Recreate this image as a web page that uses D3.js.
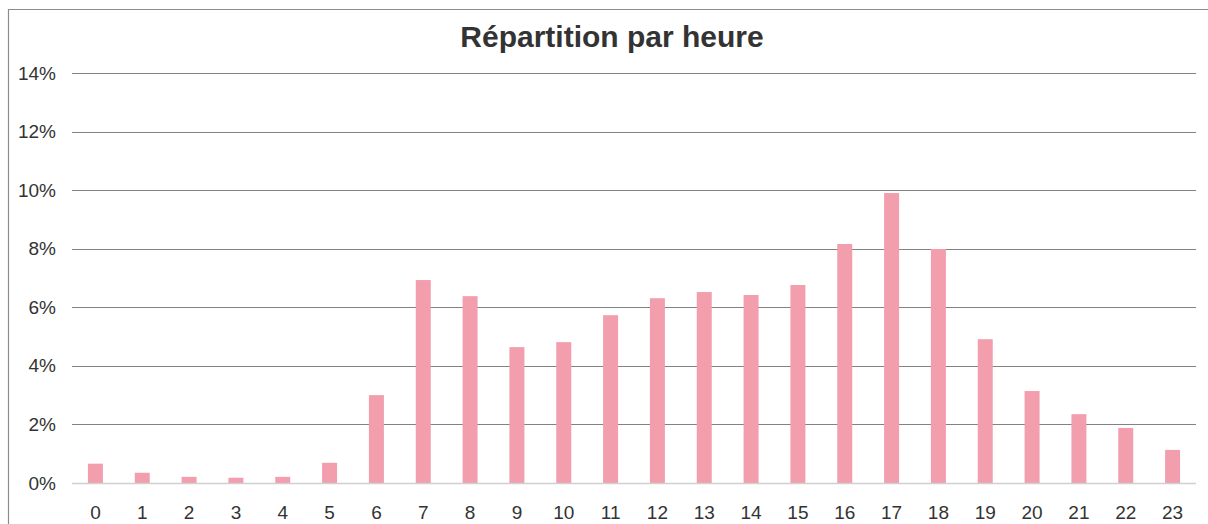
<!DOCTYPE html>
<html>
<head>
<meta charset="utf-8">
<script src="https://cdn.jsdelivr.net/npm/d3@7"></script>
<style>
  html, body { margin: 0; padding: 0; background: #fff; overflow: hidden; }
  svg { display: block; font-family: "Liberation Sans", Arial, Helvetica, sans-serif; }
</style>
</head>
<body>
<svg id="chart" width="1208" height="524"></svg>
<script>
// données (% par heure)
const hours = d3.range(0, 24).map(String);
const shares = [0.66, 0.35, 0.21, 0.18, 0.21, 0.69, 3.0, 6.93, 6.38, 4.64, 4.81, 5.73,
                6.31, 6.52, 6.42, 6.76, 8.16, 9.90, 7.99, 4.91, 3.14, 2.35, 1.88, 1.13];
const yTicks = [0, 2, 4, 6, 8, 10, 12, 14];
const title = 'Répartition par heure';

const svg = d3.select('#chart');
const margin = { left: 72, right: 12, top: 73, bottom: 41 };
const W = 1208, H = 524;

// cadre (haut et gauche seulement visibles)
svg.append('line')
  .attr('x1', 8).attr('x2', W).attr('y1', 9.5).attr('y2', 9.5)
  .attr('stroke', '#8c8c8c').attr('stroke-width', 1.2);
svg.append('line')
  .attr('x1', 8.5).attr('x2', 8.5).attr('y1', 9).attr('y2', H)
  .attr('stroke', '#8c8c8c').attr('stroke-width', 1.2);

const x = d3.scaleBand()
  .domain(hours)
  .range([margin.left, W - margin.right])
  .paddingInner(0.68).paddingOuter(0.34);

const y = d3.scaleLinear()
  .domain([0, 14])
  .range([H - margin.bottom, margin.top]);

// grille
svg.append('g')
  .selectAll('line')
  .data(yTicks.filter(d => d > 0))
  .join('line')
  .attr('x1', margin.left).attr('x2', W - margin.right)
  .attr('y1', d => Math.round(y(d)) + 0.5).attr('y2', d => Math.round(y(d)) + 0.5)
  .attr('stroke', '#828282').attr('stroke-width', 1.1);

// barres
svg.append('g')
  .selectAll('rect')
  .data(shares)
  .join('rect')
  .attr('x', (d, i) => x(hours[i]))
  .attr('width', x.bandwidth())
  .attr('y', d => y(d))
  .attr('height', d => y(0) - y(d))
  .attr('fill', '#f29eac');

// ligne de base
svg.append('line')
  .attr('x1', margin.left).attr('x2', W - margin.right)
  .attr('y1', Math.round(y(0)) + 0.5).attr('y2', Math.round(y(0)) + 0.5)
  .attr('stroke', '#d0d0d0').attr('stroke-width', 1.5);

// axe Y
const yAxis = svg.append('g')
  .attr('transform', `translate(56,0)`)
  .call(d3.axisLeft(y).tickValues(yTicks).tickFormat(d => d + '%').tickSize(0).tickPadding(0));
yAxis.select('.domain').remove();
yAxis.selectAll('text')
  .attr('fill', '#333').attr('font-size', 19)
  .attr('font-family', '"Liberation Sans", Arial, sans-serif');

// axe X
const xAxis = svg.append('g')
  .attr('transform', `translate(0,${H - margin.bottom})`)
  .call(d3.axisBottom(x).tickSize(0).tickPadding(23));
xAxis.select('.domain').remove();
xAxis.selectAll('text')
  .attr('fill', '#333').attr('font-size', 19)
  .attr('font-family', '"Liberation Sans", Arial, sans-serif');

// titre
svg.append('text')
  .attr('x', 612).attr('y', 47)
  .attr('text-anchor', 'middle')
  .attr('font-size', 30).attr('font-weight', 'bold')
  .attr('fill', '#333')
  .text(title);
</script>
</body>
</html>
